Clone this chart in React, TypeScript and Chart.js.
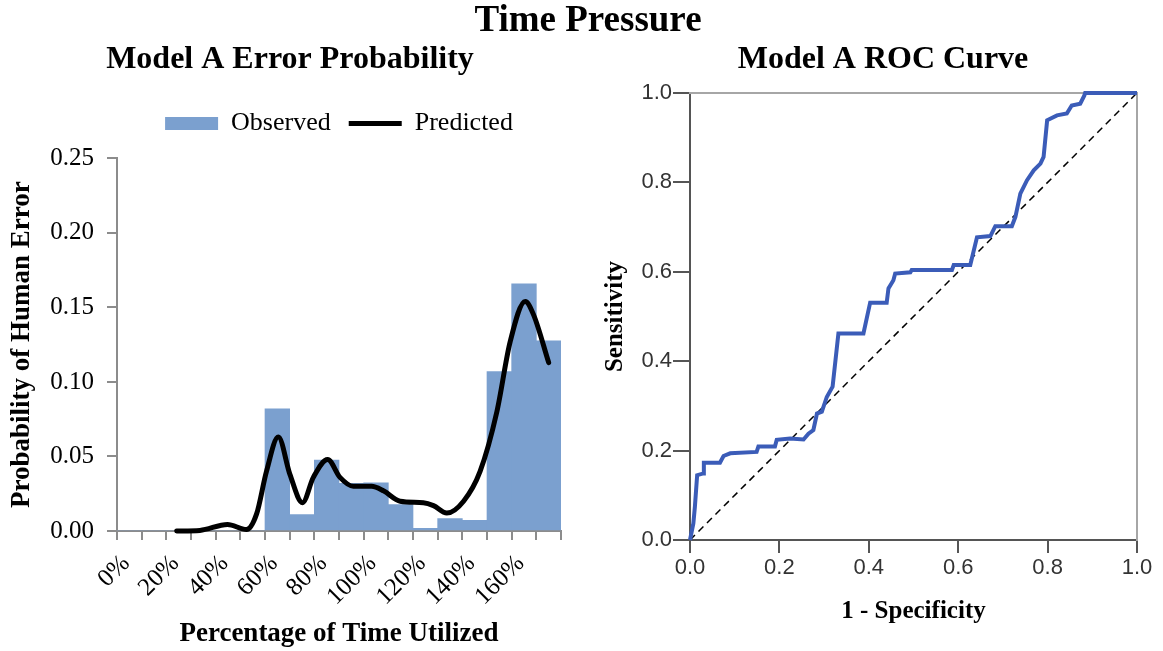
import React, { useEffect, useRef } from 'react';
import { Chart, registerables } from 'chart.js';

Chart.register(...registerables);

// ---------- data ----------
// Left chart: observed error probability per 10%-wide bin (bin start in % of time utilized)
const binStarts = [0, 10, 20, 30, 40, 50, 60, 70, 80, 90, 100, 110, 120, 130, 140, 150, 160, 170];
const observed = [0, 0, 0, 0, 0, 0, 0.082, 0.011, 0.0476, 0.032, 0.0324, 0.0178, 0.0018, 0.0084, 0.0071, 0.107, 0.1658, 0.1276];
const binWidth = 10;

// Predicted (smoothed) curve
const predictedX = [24.2, 33.6, 44.8, 52.5, 56.6, 60.6, 65.4, 70.1, 75.2, 79.6, 85.4, 90.4, 95.8, 103.2, 108, 114.8, 124.2, 128.3, 133.7, 140.5, 147.2, 154, 159.4, 165.5, 168.9, 175];
const predictedY = [0, 0.0004, 0.0044, 0.001, 0.0115, 0.04, 0.063, 0.038, 0.019, 0.036, 0.048, 0.036, 0.03, 0.03, 0.027, 0.02, 0.019, 0.017, 0.012, 0.02, 0.04, 0.08, 0.127, 0.154, 0.145, 0.113];

const leftXTickStep = 10;
const leftXLabelStep = 20;
const leftXMax = 180;
const leftYMax = 0.25;
const leftYStep = 0.05;

// Right chart: ROC curve
const rocFpr = [0, 0.0075, 0.011, 0.016, 0.03, 0.031, 0.067, 0.075, 0.09, 0.149, 0.153, 0.19, 0.194, 0.224, 0.254, 0.265, 0.276, 0.284, 0.295, 0.306, 0.319, 0.332, 0.388, 0.403, 0.44, 0.444, 0.455, 0.459, 0.493, 0.496, 0.586, 0.59, 0.627, 0.642, 0.672, 0.683, 0.72, 0.728, 0.739, 0.754, 0.769, 0.784, 0.791, 0.799, 0.821, 0.843, 0.854, 0.873, 0.882, 0.884, 1];
const rocTpr = [0, 0.037, 0.075, 0.145, 0.149, 0.173, 0.173, 0.188, 0.194, 0.197, 0.209, 0.209, 0.224, 0.227, 0.225, 0.238, 0.246, 0.283, 0.287, 0.32, 0.343, 0.462, 0.462, 0.531, 0.531, 0.563, 0.581, 0.596, 0.599, 0.604, 0.604, 0.615, 0.615, 0.677, 0.68, 0.702, 0.702, 0.723, 0.775, 0.805, 0.827, 0.842, 0.857, 0.939, 0.95, 0.954, 0.972, 0.976, 0.994, 1, 1];
const refLine = [0, 1];

const SERIF = "'Liberation Serif', 'Times New Roman', serif";
const SANS = "'Liberation Sans', Arial, sans-serif";

const legendSpacer = {
  id: 'legendSpacer',
  afterInit(chart: any) {
    const lg = chart.legend;
    if (lg && !lg.__patched) {
      const orig = lg.fit.bind(lg);
      lg.fit = function () {
        orig();
        this.height += 12;
      };
      lg.__patched = true;
    }
  },
};

function leftConfig(): any {
  return {
    type: 'bar',
    data: {
      datasets: [
        {
          type: 'bar',
          label: 'Observed',
          data: binStarts.map((s, i) => ({ x: s + binWidth / 2, y: observed[i] })),
          backgroundColor: '#7ba0cf',
          borderWidth: 0,
          barPercentage: 1,
          categoryPercentage: 1,
          pointStyle: 'rect',
          order: 2,
        },
        {
          type: 'line',
          label: 'Predicted',
          data: predictedX.map((x, i) => ({ x, y: predictedY[i] })),
          borderColor: '#000',
          backgroundColor: '#000',
          borderWidth: 5,
          pointRadius: 0,
          pointHoverRadius: 0,
          cubicInterpolationMode: 'monotone',
          pointStyle: 'line',
          borderCapStyle: 'round',
          clip: false,
          order: 1,
        },
      ],
    },
    options: {
      responsive: false,
      animation: false,
      layout: { padding: { top: 40, left: 0, right: 0, bottom: 0 } },
      plugins: {
        tooltip: { enabled: false },
        title: {
          display: true,
          text: 'Model A Error Probability',
          color: '#000',
          font: { family: SERIF, size: 32, weight: 'bold' },
          padding: { top: 1, bottom: 13 },
        },
        legend: {
          display: true,
          position: 'top',
          fullSize: false,
          labels: {
            usePointStyle: true,
            pointStyleWidth: 53,
            boxHeight: 13,
            padding: 18,
            color: '#000',
            font: { family: SERIF, size: 26 },
            sort: (a: any, b: any) => a.datasetIndex - b.datasetIndex,
          },
        },
      },
      scales: {
        x: {
          type: 'linear',
          min: 0,
          max: leftXMax,
          offset: false,
          ticks: {
            stepSize: leftXTickStep,
            autoSkip: false,
            maxRotation: 45,
            minRotation: 45,
            padding: 9,
            labelOffset: 9,
            color: '#000',
            font: { family: SERIF, size: 25 },
            callback: (v: any) => (v % leftXLabelStep === 0 && v < leftXMax ? v + '%' : ''),
          },
          grid: { display: true, drawOnChartArea: false, drawTicks: true, tickLength: 9, color: '#8c8c8c', lineWidth: 2, offset: false },
          border: { display: true, color: '#8c8c8c', width: 2 },
          title: {
            display: true,
            text: 'Percentage of Time Utilized',
            color: '#000',
            font: { family: SERIF, size: 27, weight: 'bold' },
            padding: { top: 0, bottom: 1 },
          },
          afterFit: (s: any) => {
            s.height = 120;
            s.paddingRight = 0;
            s.paddingLeft = 0;
          },
        },
        y: {
          type: 'linear',
          min: 0,
          max: leftYMax,
          ticks: {
            stepSize: leftYStep,
            padding: 13,
            color: '#000',
            font: { family: SERIF, size: 25 },
            callback: (v: any) => Number(v).toFixed(2),
          },
          grid: { display: true, drawOnChartArea: false, drawTicks: true, tickLength: 10, color: '#8c8c8c', lineWidth: 2 },
          border: { display: true, color: '#8c8c8c', width: 2 },
          title: {
            display: true,
            text: 'Probability of Human Error',
            color: '#000',
            font: { family: SERIF, size: 27, weight: 'bold' },
            padding: { top: 6, bottom: 0 },
          },
          afterFit: (s: any) => {
            s.width = 117;
          },
        },
        y2: {
          type: 'linear',
          position: 'right',
          min: 0,
          max: 1,
          ticks: { display: false },
          grid: { display: false },
          border: { display: false },
          afterFit: (s: any) => {
            s.width = 19;
          },
        },
      },
    },
    plugins: [legendSpacer],
  };
}

function rightConfig(): any {
  const tickFont = { family: SANS, size: 22 };
  return {
    type: 'line',
    data: {
      datasets: [
        {
          label: 'ROC',
          data: rocFpr.map((x, i) => ({ x, y: rocTpr[i] })),
          borderColor: '#3b5cb8',
          borderWidth: 4,
          pointRadius: 0,
          pointHoverRadius: 0,
          tension: 0,
          clip: false,
        },
        {
          label: 'Reference',
          data: refLine.map((v) => ({ x: v, y: v })),
          borderColor: '#000',
          borderWidth: 1.5,
          borderDash: [7, 5],
          pointRadius: 0,
          pointHoverRadius: 0,
          tension: 0,
        },
      ],
    },
    options: {
      responsive: false,
      animation: false,
      layout: { padding: { top: 40, left: 0, right: 0, bottom: 0 } },
      plugins: {
        legend: { display: false },
        tooltip: { enabled: false },
        title: {
          display: true,
          text: 'Model A ROC Curve',
          color: '#000',
          font: { family: SERIF, size: 32, weight: 'bold' },
          padding: { top: 1, bottom: 13.6 },
        },
      },
      scales: {
        x: {
          type: 'linear',
          min: 0,
          max: 1,
          ticks: { stepSize: 0.2, padding: 2, color: '#333', font: tickFont, callback: (v: any) => Number(v).toFixed(1) },
          grid: { display: true, drawOnChartArea: false, drawTicks: true, tickLength: 13, color: '#555', lineWidth: 2 },
          border: { display: true, color: '#555', width: 2 },
          title: {
            display: true,
            text: '1 - Specificity',
            color: '#000',
            font: { family: SERIF, size: 25, weight: 'bold' },
            padding: { top: 0, bottom: 24 },
          },
          afterFit: (s: any) => {
            s.height = 111;
          },
        },
        y: {
          type: 'linear',
          min: 0,
          max: 1,
          ticks: { stepSize: 0.2, padding: 1, color: '#333', font: tickFont, callback: (v: any) => Number(v).toFixed(1) },
          grid: { display: true, drawOnChartArea: false, drawTicks: true, tickLength: 17, color: '#555', lineWidth: 2 },
          border: { display: true, color: '#555', width: 2 },
          title: {
            display: true,
            text: 'Sensitivity',
            color: '#000',
            font: { family: SERIF, size: 25, weight: 'bold', lineHeight: 1 },
            padding: { top: 0, bottom: 0 },
          },
          afterFit: (s: any) => {
            s.width = 87;
          },
        },
        x2: {
          type: 'linear',
          position: 'top',
          min: 0,
          max: 1,
          ticks: { display: false },
          grid: { display: false },
          border: { display: true, color: '#a6a6a6', width: 2 },
          afterFit: (s: any) => {
            s.height = 0;
          },
        },
        y2: {
          type: 'linear',
          position: 'right',
          min: 0,
          max: 1,
          ticks: { display: false },
          grid: { display: false },
          border: { display: true, color: '#a6a6a6', width: 2 },
          afterFit: (s: any) => {
            s.width = 26;
          },
        },
      },
    },
  };
}

export default function App() {
  const leftRef = useRef<HTMLCanvasElement>(null);
  const rightRef = useRef<HTMLCanvasElement>(null);

  useEffect(() => {
    const c1 = new Chart(leftRef.current as HTMLCanvasElement, leftConfig());
    const c2 = new Chart(rightRef.current as HTMLCanvasElement, rightConfig());
    return () => {
      c1.destroy();
      c2.destroy();
    };
  }, []);

  return (
    <div style={{ position: 'absolute', left: 0, top: 0, width: 1163, height: 651, overflow: 'hidden', background: '#fff' }}>
      <canvas ref={leftRef} width={580} height={651} style={{ position: 'absolute', left: 0, top: 0, width: 580, height: 651 }} />
      <canvas ref={rightRef} width={560} height={651} style={{ position: 'absolute', left: 603, top: 0, width: 560, height: 651 }} />
      <div
        style={{
          position: 'absolute',
          left: 0,
          top: 0,
          width: 1176,
          textAlign: 'center',
          fontFamily: SERIF,
          fontWeight: 'bold',
          fontSize: 37,
          lineHeight: '37px',
          color: '#000',
        }}
      >
        Time Pressure
      </div>
    </div>
  );
}
